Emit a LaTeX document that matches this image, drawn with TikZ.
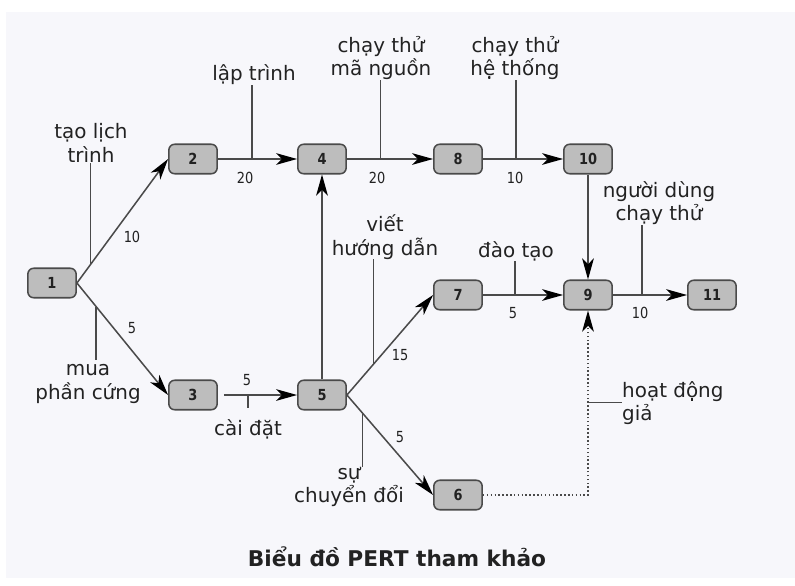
\documentclass[tikz,border=0pt]{standalone}
\usepackage{fontspec}
\setmainfont{DejaVu Sans}
\newfontfamily\numfont[FakeStretch=0.85]{DejaVu Sans}
\usetikzlibrary{arrows.meta}
\definecolor{bgpale}{HTML}{F7F7FB}
\definecolor{boxgray}{HTML}{BDBDBD}
\definecolor{linegray}{HTML}{4A4A4A}
\definecolor{textdark}{HTML}{222222}

\begin{document}
\begin{tikzpicture}[x=0.03cm,y=-0.03cm,
  event/.style={draw=linegray,line width=1.3pt,fill=boxgray,rounded corners=5pt,
    minimum width=1.45cm,minimum height=0.885cm,inner sep=0pt,text=textdark,
    font=\numfont\bfseries\fontsize{13}{15}\selectfont},
  act/.style={draw=linegray,line width=1.3pt,
    -{Stealth[length=18pt,width=10pt,inset=5pt,color=black]}},
  tick/.style={draw=linegray,line width=1.2pt},
  task/.style={align=center,inner sep=0pt,text=textdark,font=\fontsize{17}{20}\selectfont},
  dur/.style={inner sep=0pt,text=textdark,font=\numfont\fontsize{13}{15}\selectfont}]
\useasboundingbox (0,0) rectangle (795,585);
\fill[bgpale] (6,12) rectangle (795,578);

% events
\node[event] (n1) at (52,283) {1};
\node[event] (n2) at (193,159) {2};
\node[event] (n3) at (193,395) {3};
\node[event] (n4) at (322,159) {4};
\node[event] (n5) at (322,395) {5};
\node[event] (n6) at (458,495) {6};
\node[event] (n7) at (458,295) {7};
\node[event] (n8) at (458,159) {8};
\node[event] (n9) at (588,295) {9};
\node[event] (n10) at (588,159) {10};
\node[event] (n11) at (712,295) {11};

% activities
\draw[act] (n1.east) -- coordinate[pos=0.15] (t12) (n2.west);
\draw[act] (n1.east) -- coordinate[pos=0.21] (t13) (n3.west);
\draw[act] (n2.east) -- coordinate[pos=0.43] (t24) (n4.west);
\draw[act] ([xshift=5pt]n3.east) -- coordinate[pos=0.33] (t35) (n5.west);
\draw[act] (n4.east) -- coordinate[pos=0.39] (t48) (n8.west);
\draw[act] (n8.east) -- coordinate[pos=0.41] (t810) (n10.west);
\draw[act] (n5.north) -- (n4.south);
\draw[act] (n5.east) -- coordinate[pos=0.31] (t57) (n7.west);
\draw[act] (n5.east) -- coordinate[pos=0.18] (t56) (n6.west);
\draw[act] (n7.east) -- coordinate[pos=0.4] (t79) (n9.west);
\draw[act] (n10.south) -- (n9.north);
\draw[act] (n9.east) -- coordinate[pos=0.39] (t911) (n11.west);
\draw[act,dotted] (n6.east) -| coordinate[pos=0.75] (t69) (n9.south);

% activity names
\node[task] (l12) at (91,143) {tạo lịch\\trình};
\node[task] (l13) at (88,384) {mua\\phần cứng};
\node[task] (l24) at (254,75) {lập trình};
\node[task] (l35) at (248,429) {cài đặt};
\node[task] (l48) at (381,58) {chạy thử\\mã nguồn};
\node[task] (l810) at (515,58) {chạy thử\\hệ thống};
\node[task] (l57) at (385,237) {viết\\hướng dẫn};
\node[task] (l56) at (349,487) {sự\\chuyển đổi};
\node[task] (l79) at (516,251) {đào tạo};
\node[task] (l911) at (659,203) {người dùng\\chạy thử};
\node[task,anchor=west,align=left] (l69) at (622,403) {hoạt động\\giả};

\draw[tick] (t12) -- (t12 |- l12.south);
\draw[tick,shorten >=4pt] (t13) -- (t13 |- l13.north);
\draw[tick] (t24) -- (t24 |- l24.south);
\draw[tick,shorten >=9pt] (t35) -- (t35 |- l35.north);
\draw[tick] (t48) -- (t48 |- l48.south);
\draw[tick] (t810) -- (t810 |- l810.south);
\draw[tick] (t57) -- (t57 |- l57.south);
\draw[tick] (t56) -- (t56 |- l56.north);
\draw[tick] (t79) -- (t79 |- l79.south);
\draw[tick] (t911) -- (t911 |- l911.south);
\draw[tick] (t69) -- (t69 -| l69.west);

% durations
\node[dur] (d12) at (132,237) {10};
\node[dur] (d13) at (132,328) {5};
\node[dur] (d24) at (245,178) {20};
\node[dur] (d35) at (247,380) {5};
\node[dur] (d48) at (377,178) {20};
\node[dur] (d810) at (515,178) {10};
\node[dur] (d57) at (400,355) {15};
\node[dur] (d56) at (400,437) {5};
\node[dur] (d79) at (513,313) {5};
\node[dur] (d911) at (640,313) {10};

\node[text=textdark,inner sep=0pt,font=\bfseries\fontsize{18.5}{22}\selectfont] (title) at (397,557) {Biểu đồ PERT tham khảo};
\end{tikzpicture}
\end{document}
